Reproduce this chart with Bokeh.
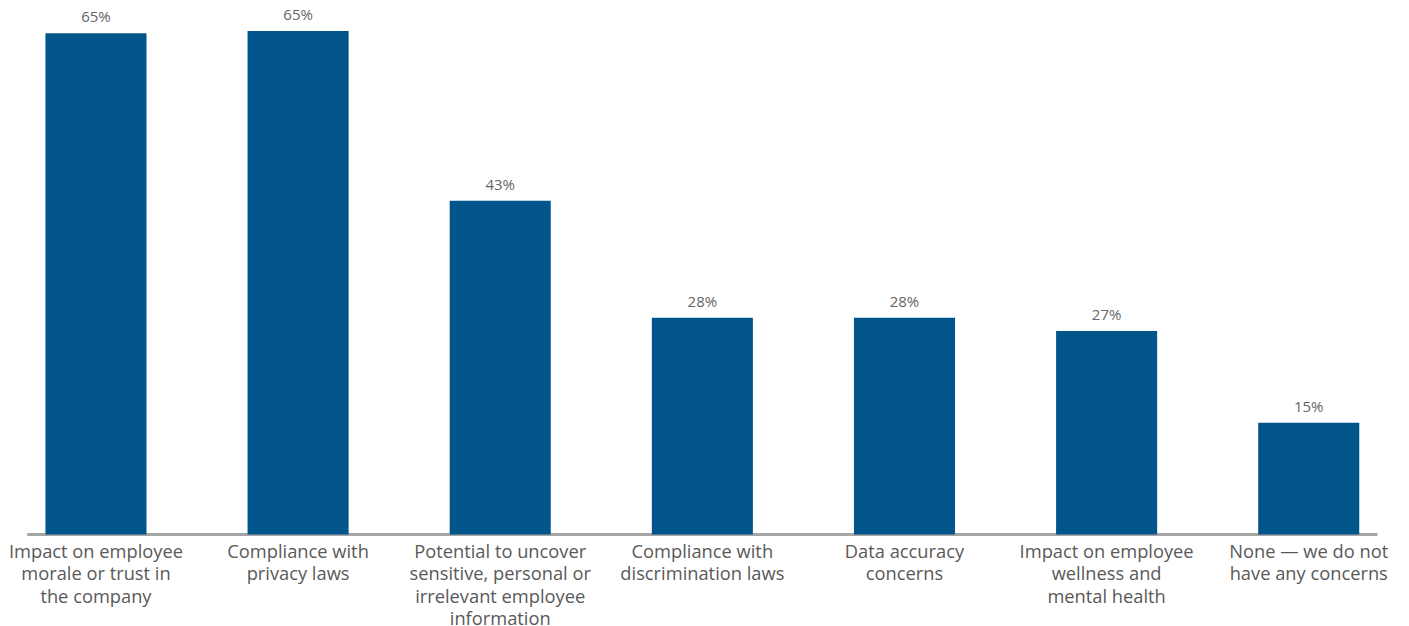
from bokeh.plotting import figure
from bokeh.models import ColumnDataSource, Range1d
from bokeh.core.properties import value
from bokeh.embed import file_html
from bokeh.resources import INLINE

categories = [
    "Impact on employee\nmorale or trust in\nthe company",
    "Compliance with\nprivacy laws",
    "Potential to uncover\nsensitive, personal or\nirrelevant employee\ninformation",
    "Compliance with\ndiscrimination laws",
    "Data accuracy\nconcerns",
    "Impact on employee\nwellness and\nmental health",
    "None \u2014 we do not\nhave any concerns",
]
values = [65.0, 65.3, 43.3, 28.1, 28.1, 26.4, 14.5]
value_labels = ["65%", "65%", "43%", "28%", "28%", "27%", "15%"]

xs = list(range(len(categories)))
src = ColumnDataSource(dict(x=xs, top=values, lab=value_labels, cat=categories, zero=[0] * len(xs)))

FONT = "Open Sans"
p = figure(width=1409, height=626, output_backend="svg", toolbar_location=None,
           x_range=Range1d(-0.4723, 6.4985), y_range=Range1d(-11.93, 69.26),
           min_border=0, outline_line_color=None)
p.axis.visible = False
p.grid.visible = False
p.background_fill_color = "white"
p.border_fill_color = "white"

n = len(categories)
p.segment(x0=[-0.34], x1=[n - 1 + 0.34], y0=[0], y1=[0], line_color="#A6A6A6", line_width=3)
p.vbar(x="x", top="top", bottom=0, width=0.5, source=src, fill_color="#02558B", line_color=None)
p.text(x="x", y="top", text="lab", source=src, text_align="center", text_baseline="bottom",
       y_offset=-7, text_font=value(FONT), text_font_size="15px", text_color="#666666")
p.text(x="x", y="zero", text="cat", source=src, text_align="center", text_baseline="top",
       y_offset=3, text_font=value(FONT), text_font_size="18.3px", text_color="#595959",
       text_line_height=0.9)

open("out.html", "w").write(file_html(p, INLINE))
